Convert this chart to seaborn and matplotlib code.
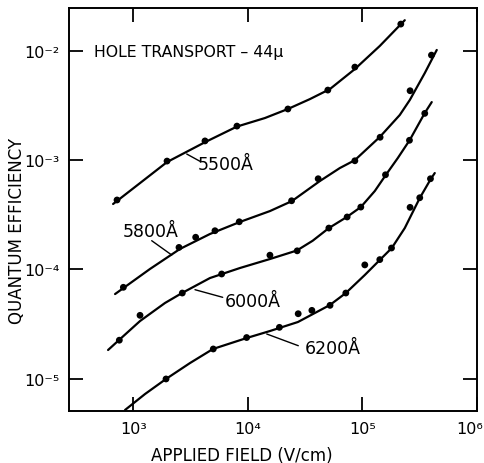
import matplotlib
matplotlib.use("Agg")
import matplotlib.pyplot as plt
import seaborn as sns
import pandas as pd
import numpy as np
from matplotlib.ticker import LogLocator, NullLocator, FuncFormatter
from matplotlib.transforms import ScaledTranslation

# ---------------- data ----------------
# measured points
pts_5500_x = [722, 1972, 4227, 8035, 22370, 49900, 85900, 216300]
pts_5500_y = [4.32e-4, 9.81e-4, 1.50e-3, 2.05e-3, 2.94e-3, 4.38e-3, 7.11e-3, 1.76e-2]

pts_5800_x = [820, 2507, 3506, 5166, 8414, 24090, 41100, 85900, 142700, 260600, 400400]
pts_5800_y = [6.86e-5, 1.59e-4, 1.97e-4, 2.26e-4, 2.73e-4, 4.25e-4, 6.76e-4, 9.87e-4,
              1.62e-3, 4.32e-3, 9.15e-3]

pts_6000_x = [756, 1146, 2680, 5910, 15590, 26960, 50950, 73560, 96830, 159000, 257400, 350000]
pts_6000_y = [2.25e-5, 3.80e-5, 6.08e-5, 9.08e-5, 1.35e-4, 1.48e-4, 2.39e-4, 3.02e-4,
              3.72e-4, 7.35e-4, 1.52e-3, 2.68e-3]

pts_6200_x = [1932, 4993, 9761, 18860, 27510, 36220, 52170, 71650, 104900, 141800,
              179400, 260600, 316500, 392500]
pts_6200_y = [9.94e-6, 1.87e-5, 2.38e-5, 2.95e-5, 3.93e-5, 4.22e-5, 4.69e-5, 6.08e-5,
              1.10e-4, 1.23e-4, 1.57e-4, 3.70e-4, 4.53e-4, 6.76e-4]

# smooth curves drawn through the data
fit_5500_x = [667, 1146, 1972, 4227, 8035, 14100, 22370, 34780, 51980, 85900, 141800, 234200]
fit_5500_y = [3.97e-4, 6.17e-4, 9.61e-4, 1.46e-3, 2.03e-3, 2.43e-3, 2.94e-3, 3.62e-3,
              4.47e-3, 6.82e-3, 1.11e-2, 1.91e-2]

fit_5800_x = [694, 1401, 2559, 4673, 8533, 15590, 24240, 42520, 63530, 85900, 141800,
              211800, 259000, 349900, 445400]
fit_5800_y = [5.95e-5, 1.01e-4, 1.54e-4, 2.11e-4, 2.72e-4, 3.42e-4, 4.22e-4, 6.44e-4,
              8.47e-4, 1.00e-3, 1.63e-3, 2.59e-3, 3.55e-3, 6.26e-3, 1.02e-2]

fit_6000_x = [603, 752, 1146, 1893, 2664, 4673, 8533, 15590, 26800, 36800, 50950, 73110,
              96830, 128300, 159900, 203500, 259000, 349900, 402700]
fit_6000_y = [1.83e-5, 2.26e-5, 3.37e-5, 4.93e-5, 6.08e-5, 8.34e-5, 1.03e-4, 1.245e-4,
              1.49e-4, 1.83e-4, 2.39e-4, 3.02e-4, 3.72e-4, 5.22e-4, 7.31e-4, 1.045e-3,
              1.53e-3, 2.70e-3, 3.40e-3]

fit_6200_x = [848, 1268, 1932, 3127, 4963, 9822, 15590, 27340, 51980, 71650, 104900,
              141800, 180400, 234200, 316500, 394900, 427900]
fit_6200_y = [5.17e-6, 7.24e-6, 9.94e-6, 1.39e-5, 1.87e-5, 2.36e-5, 2.73e-5, 3.30e-5,
              4.72e-5, 6.08e-5, 8.89e-5, 1.22e-4, 1.57e-4, 2.39e-4, 4.50e-4, 6.72e-4, 7.62e-4]

series_labels = ["5500Å", "5800Å", "6000Å", "6200Å"]
title_text = "HOLE TRANSPORT – 44μ"
x_label = "APPLIED FIELD (V/cm)"
y_label = "QUANTUM EFFICIENCY"

# ---------------- build tables ----------------
pts = pd.concat([
    pd.DataFrame({"field": pts_5500_x, "qe": pts_5500_y, "wl": series_labels[0]}),
    pd.DataFrame({"field": pts_5800_x, "qe": pts_5800_y, "wl": series_labels[1]}),
    pd.DataFrame({"field": pts_6000_x, "qe": pts_6000_y, "wl": series_labels[2]}),
    pd.DataFrame({"field": pts_6200_x, "qe": pts_6200_y, "wl": series_labels[3]}),
], ignore_index=True)
fits = pd.concat([
    pd.DataFrame({"field": fit_5500_x, "qe": fit_5500_y, "wl": series_labels[0]}),
    pd.DataFrame({"field": fit_5800_x, "qe": fit_5800_y, "wl": series_labels[1]}),
    pd.DataFrame({"field": fit_6000_x, "qe": fit_6000_y, "wl": series_labels[2]}),
    pd.DataFrame({"field": fit_6200_x, "qe": fit_6200_y, "wl": series_labels[3]}),
], ignore_index=True)

# ---------------- plotting ----------------
sns.set_style("ticks")
plt.rcParams["font.family"] = ["DejaVu Sans"]
for key in ["text.color", "axes.labelcolor", "xtick.color", "ytick.color",
            "axes.edgecolor"]:
    plt.rcParams[key] = "black"

SUP = str.maketrans("-0123456789", "⁻⁰¹²³⁴⁵⁶⁷⁸⁹")


def pow10_label(v, pos):
    e = int(round(np.log10(v)))
    return "10" + str(e).translate(SUP)


fig = plt.figure(figsize=(4.84, 4.64), dpi=100)
ax = fig.add_axes([69 / 484, 1 - 412 / 464, 408 / 484, 403 / 464])
ax.set_xscale("log")
ax.set_yscale("log")

black = {lab: "black" for lab in series_labels}
sns.lineplot(data=fits, x="field", y="qe", hue="wl", palette=black, estimator=None,
             sort=False, linewidth=1.6, legend=False, ax=ax)
sns.scatterplot(data=pts, x="field", y="qe", hue="wl", palette=black, s=24,
                edgecolor="black", linewidth=0, legend=False, ax=ax, zorder=3)

ax.set_xlim(275, 1.0e6)
ax.set_ylim(5.06e-6, 2.47e-2)

ax.xaxis.set_major_locator(LogLocator(base=10, numticks=10))
ax.yaxis.set_major_locator(LogLocator(base=10, numticks=10))
ax.xaxis.set_minor_locator(NullLocator())
ax.yaxis.set_minor_locator(NullLocator())
ax.xaxis.set_major_formatter(FuncFormatter(pow10_label))
ax.yaxis.set_major_formatter(FuncFormatter(pow10_label))

ax.tick_params(which="major", direction="in", length=10, width=1.3,
               top=True, right=True, labelsize=11.5, pad=7, colors="black")
for sp in ax.spines.values():
    sp.set_linewidth(1.4)
    sp.set_color("black")

ax.set_xlabel(x_label, fontsize=12)
ax.set_ylabel(y_label, fontsize=12)
ax.xaxis.set_label_coords(0.424, -0.086)
ax.yaxis.set_label_coords(-0.105, 0.449)

ax.text(0.061, 0.892, title_text, transform=ax.transAxes, fontsize=11.3,
        ha="left", va="center")

label_pos = [(0.316, 0.6005), (0.132, 0.435), (0.382, 0.261), (0.578, 0.144)]
leaders = [((0.2885, 0.6377), (0.3211, 0.6196)),
           ((0.2027, 0.4226), (0.2517, 0.3871)),
           ((0.3088, 0.3010), (0.3767, 0.2821)),
           ((0.4846, 0.1911), (0.5620, 0.1620))]
for lab, (tx, ty), (p0, p1) in zip(series_labels, label_pos, leaders):
    ax.text(tx, ty, lab, transform=ax.transAxes, fontsize=12.5,
            ha="left", va="baseline")
    ax.annotate("", xy=p0, xytext=p1, xycoords="axes fraction",
                textcoords="axes fraction",
                arrowprops=dict(arrowstyle="-", lw=1.0, color="black",
                                shrinkA=0, shrinkB=0))

# keep the 10^6 label inside the image, as in the reference
fig.canvas.draw()
for t in ax.xaxis.get_major_ticks():
    if np.isclose(t.get_loc(), 1.0e6):
        t.label1.set_horizontalalignment("right")
        t.label1.set_transform(t.label1.get_transform()
                               + ScaledTranslation(6 / 100, 0, fig.dpi_scale_trans))

fig.savefig("out.png", dpi=100, facecolor="white")
